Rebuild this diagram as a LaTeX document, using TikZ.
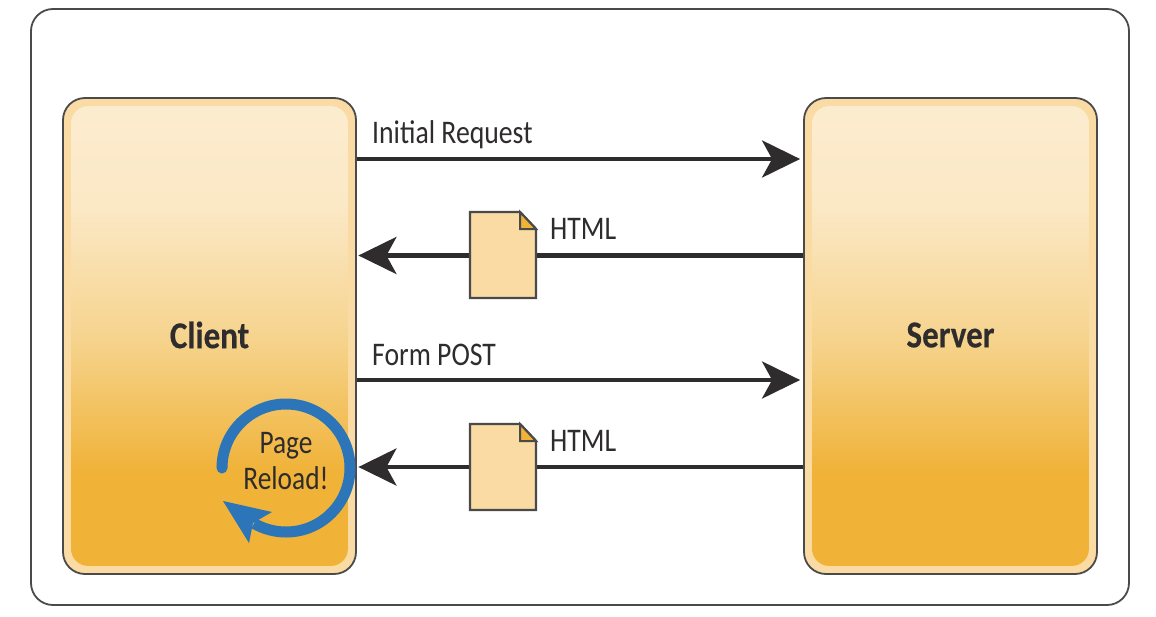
\documentclass[tikz,border=0pt]{standalone}
\usepackage{fontspec}
\usetikzlibrary{arrows.meta,calc}
\newfontfamily\cf[FakeStretch=0.84]{Carlito}
\newfontfamily\cfb[FakeStretch=0.87,FakeBold=0.3]{Carlito}
\newfontfamily\cfr[FakeStretch=0.83]{Carlito}
\definecolor{ink}{HTML}{2E2C2D}
\definecolor{edgegray}{HTML}{4A4A4A}
\definecolor{rim}{HTML}{F9DBA3}
\definecolor{loopblue}{HTML}{2B75B8}
\definecolor{gold}{HTML}{F0B237}
\pgfdeclareverticalshading{panel}{100bp}{
 color(0bp)=(gold); color(25bp)=(gold); color(35bp)=(gold);
 color(50bp)=(rgb,255:red,246;green,212;blue,143);
 color(64bp)=(rgb,255:red,251;green,232;blue,197);
 color(75bp)=(rgb,255:red,252;green,236;blue,207);
 color(100bp)=(rgb,255:red,252;green,236;blue,207)}
\tikzset{
 panelbox/.style={draw=edgegray,line width=1.8pt,rounded corners=22pt,fill=rim,minimum width=293pt,minimum height=476pt,inner sep=0pt},
 flow/.style={draw=ink,line width=4.5pt,-{Stealth[length=38pt,width=37pt,inset=10pt]}},
 lbl/.style={text=ink,font=\cf\fontsize{33}{38}\selectfont,inner sep=0pt,anchor=base west},
 title/.style={text=ink,font=\cfb\bfseries\fontsize{38}{44}\selectfont,inner sep=0pt},
 docbody/.style={draw=edgegray,line width=2.4pt,fill=rim,line join=miter},
}
\begin{document}
\begin{tikzpicture}[x=1pt,y=-1pt]
\useasboundingbox (0,0) rectangle (1156,616);
\fill[white] (0,0) rectangle (1156,616);
\node[draw=edgegray,line width=1.8pt,rounded corners=22pt,minimum width=1098pt,minimum height=596pt,inner sep=0pt] (frame) at (580,307) {};
\node[panelbox] (client) at (209.5,336) {};
\node[panelbox] (server) at (950.5,336) {};
\foreach \c in {client,server}{
 \shade[shading=panel,rounded corners=17pt] ($(\c.south west)+(9,-9)$) rectangle ($(\c.north east)+(-9,9)$);
}
\node[title] (clientlabel) at (209.5,335) {Client};
\node[title] (serverlabel) at (950.5,335) {Server};
% connectors
\coordinate (a) at (0,159);\coordinate (b) at (0,255.5);\coordinate (c) at (0,380);\coordinate (d) at (0,467);
\draw[flow,shorten >=3pt] (client.east |- a) -- (server.west |- a);
\draw[flow,shorten >=3pt] (client.east |- c) -- (server.west |- c);
\draw[flow,shorten >=1.5pt] (server.west |- b) -- (client.east |- b);
\draw[flow,shorten >=1.5pt] (server.west |- d) -- (client.east |- d);
% documents
\foreach \n/\y in {doctop/212,docbottom/424}{
 \draw[docbody] (470,\y) -- (520,\y) -- (536,\y+17) -- (536,\y+86) -- (470,\y+86) -- cycle;
 \draw[edgegray,line width=2pt,fill=gold] (520,\y) -- (520,\y+17) -- (536,\y+17) -- cycle;
}
\node[lbl] (l1) at (372,143) {Initial Request};
\node[lbl] (l2) at (550,239) {HTML};
\node[lbl] (l3) at (372,365) {Form POST};
\node[lbl] (l4) at (550,451) {HTML};
% reload loop
\draw[loopblue,line width=11pt] (222,468) arc[start angle=180,end angle=480,radius=64];
\fill[loopblue] (222,468) circle (5.5);
\fill[loopblue] (223,501) -- (272,512) -- (253,523) -- (249,543) -- cycle;
\node[text=ink,font=\cfr\fontsize{33}{36}\selectfont,align=center,inner sep=0pt] (reload) at (286,461) {Page\\Reload!};
\end{tikzpicture}
\end{document}
